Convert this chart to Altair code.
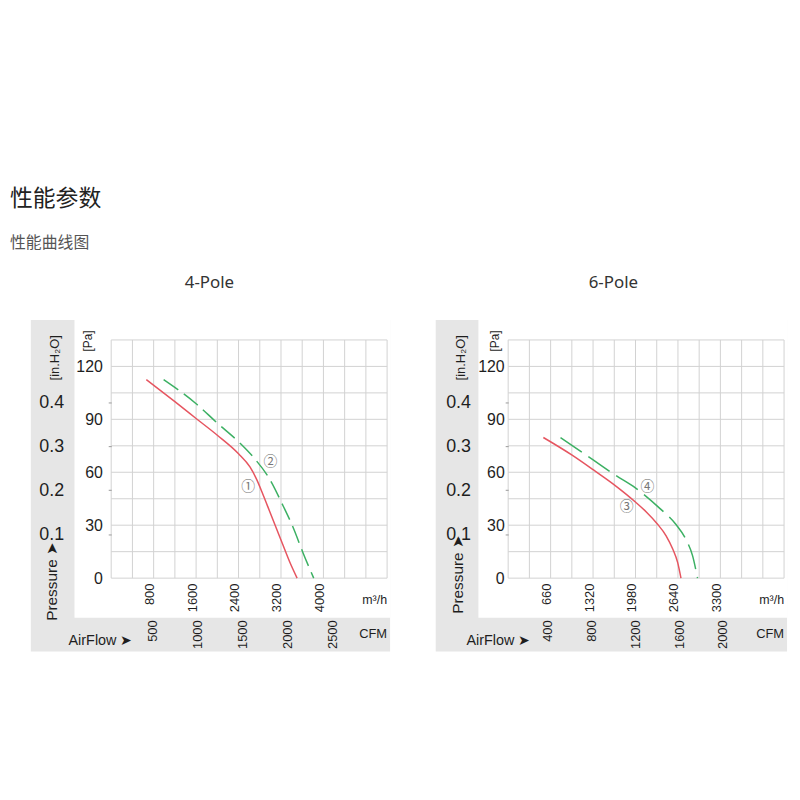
import altair as alt
import pandas as pd

# ---------------- data ----------------
PA_MAX = 135
PA_PER_INH2O = 249.0
M3H_PER_CFM = 1.7

# 4-Pole panel
p4_flow_max = 5200
p4_grid_flow = [0, 400, 800, 1200, 1600, 2000, 2400, 2800, 3200, 3600, 4000, 4400, 4800, 5200]
p4_flow_ticks = [800, 1600, 2400, 3200, 4000]
p4_cfm_ticks = [500, 1000, 1500, 2000, 2500]
p4_c1_flow = [662, 1200, 1600, 2000, 2400, 2615, 2741, 2866, 2991, 3116, 3241, 3367, 3504]
p4_c1_pa = [112.5, 100.0, 90.5, 81.0, 70.5, 63.0, 56.0, 47.0, 37.5, 28.0, 18.5, 9.0, 0.0]
p4_c2_flow = [988, 1595, 1995, 2428, 2678, 2991, 3241, 3429, 3620, 3817]
p4_c2_pa = [112.5, 99.0, 88.0, 76.5, 68.6, 55.9, 40.9, 28.7, 14.0, 0.0]
p4_tags = ["①", "②"]
p4_tag_flow = [2584, 3003]
p4_tag_pa = [51.7, 65.8]

# 6-Pole panel
p6_flow_max = 4290
p6_grid_flow = [0, 330, 660, 990, 1320, 1650, 1980, 2310, 2640, 2970, 3300, 3630, 3960, 4290]
p6_flow_ticks = [660, 1320, 1980, 2640, 3300]
p6_cfm_ticks = [400, 800, 1200, 1600, 2000]
p6_c3_flow = [547, 994, 1327, 1660, 1983, 2148, 2313, 2456, 2559, 2636, 2687]
p6_c3_pa = [79.7, 69.7, 61.3, 52.6, 43.0, 37.5, 31.0, 24.0, 16.5, 8.8, 0.0]
p6_c4_flow = [814, 1327, 1660, 1983, 2353, 2610, 2765, 2868, 2944]
p6_c4_pa = [79.7, 66.9, 58.5, 51.0, 39.7, 30.4, 21.9, 12.6, 0.0]
p6_tags = ["③", "④"]
p6_tag_flow = [1841, 2165]
p6_tag_pa = [40.3, 51.9]

pa_grid = [0, 15, 30, 45, 60, 75, 90, 105, 120, 135]
pa_ticks = [0, 30, 60, 90, 120]
inh2o_ticks = [0.1, 0.2, 0.3, 0.4]

# ---------------- styling ----------------
W, H = 278, 240
NARROW = "Liberation Sans Narrow, Arial Narrow, Liberation Sans, Arial"
CJK = "Noto Sans CJK SC"
INK = "#1e1e1e"
RED = "#e65560"
GREEN = "#3cb063"
GRID = "#d2d2d2"
GRAY = "#e6e6e6"

one = pd.DataFrame({"k": [0]})


def txt(s, x, y, size, angle=0, align="center", baseline="middle",
        font=NARROW, color=INK, weight="normal"):
    return alt.Chart(one).mark_text(
        text=s, fontSize=size, angle=angle, align=align, baseline=baseline,
        font=font, color=color, fontWeight=weight
    ).encode(x=alt.value(x), y=alt.value(y))


def box(x1, x2, y1, y2, color):
    return alt.Chart(one).mark_rect(color=color).encode(
        x=alt.value(x1), x2=alt.value(x2), y=alt.value(y1), y2=alt.value(y2))


def panel(flow_max, grid_flow, flow_ticks, cfm_ticks, curves, tags, g, title, extra=None):
    xs = alt.Scale(domain=[0, flow_max], nice=False, zero=False)
    ys = alt.Scale(domain=[0, PA_MAX], nice=False)
    x_axis = alt.Axis(values=flow_ticks, labelAngle=270, ticks=False, domain=False,
                      grid=False, labelPadding=5, labelFontSize=13, labelFont=NARROW,
                      labelColor=INK, title=None, labelOffset=-4, zindex=1, format="d")
    y_axis = alt.Axis(values=pa_ticks, ticks=False, domain=False, grid=False,
                      labelPadding=g["pa_pad"], labelFontSize=16, labelFont=NARROW,
                      labelColor=INK, title=None, zindex=1, format="d")

    layers = [
        box(g["gl"], g["gr"], -20, 314, GRAY),
        box(g["wl"], g["gr"], -20, 280, "white"),
        alt.Chart(pd.DataFrame({"f": grid_flow})).mark_rule(color=GRID, strokeWidth=1).encode(
            x=alt.X("f:Q", scale=xs, axis=x_axis), y=alt.value(0), y2=alt.value(H)),
        alt.Chart(pd.DataFrame({"p": pa_grid})).mark_rule(color=GRID, strokeWidth=1).encode(
            y=alt.Y("p:Q", scale=ys, axis=y_axis), x=alt.value(0), x2=alt.value(W)),
    ]
    for (fl, pa, color, dash) in curves:
        df = pd.DataFrame({"f": fl, "p": pa})
        mk = dict(color=color, strokeWidth=1.5, interpolate="monotone")
        if dash:
            mk["strokeDash"] = dash
        layers.append(alt.Chart(df).mark_line(**mk).encode(
            x=alt.X("f:Q", scale=xs, axis=x_axis), y=alt.Y("p:Q", scale=ys, axis=y_axis)))
    tdf = pd.DataFrame({"t": tags[0], "f": tags[1], "p": tags[2]})
    layers.append(alt.Chart(tdf).mark_text(font=CJK, fontSize=14, color="#777777").encode(
        x=alt.X("f:Q", scale=xs, axis=x_axis), y=alt.Y("p:Q", scale=ys, axis=y_axis), text="t:N"))

    layers += [
        txt("[Pa]", g["pa_x"], 1, 12, angle=270),
        txt("[in.H₂O]", g["in_x"], 18, 13, angle=270),
        txt("Pressure ➤", g["pr_x"], g["pr_y"], 15.5, angle=270, align="left"),
        txt("AirFlow ➤", g["af_x"], 303, 14.5, align="left"),
        txt("m³/h", W, 262, 12.5, align="right"),
        txt("CFM", W, 296, 13, align="right"),
        txt(title, g["t_x"], -57, 17, font="Noto Sans", color="#333333"),
    ]
    if extra:
        layers += extra
    inner = alt.layer(*layers)

    cfm_axis = alt.Axis(values=cfm_ticks, orient="bottom", offset=36, labelAngle=270,
                        ticks=False, domain=False, grid=False, labelPadding=6,
                        labelFontSize=13, labelFont=NARROW, labelColor=INK, title=None,
                        labelOffset=-4, zindex=1, format="d")
    cfm = alt.Chart(pd.DataFrame({"c": cfm_ticks})).mark_point(opacity=0).encode(
        x=alt.X("c:Q", scale=alt.Scale(domain=[0, flow_max / M3H_PER_CFM], nice=False, zero=False),
                axis=cfm_axis),
        y=alt.value(0))
    inh_axis = alt.Axis(values=inh2o_ticks, orient="left", offset=0, ticks=True, tickSize=3,
                        tickColor="#999999", domain=False, grid=False,
                        labelPadding=g["in_pad"], labelFontSize=18, labelFont=NARROW,
                        labelColor=INK, title=None, format=".1f", zindex=1)
    inh = alt.Chart(pd.DataFrame({"h": inh2o_ticks})).mark_point(opacity=0).encode(
        y=alt.Y("h:Q", scale=alt.Scale(domain=[0, PA_MAX / PA_PER_INH2O], nice=False),
                axis=inh_axis),
        x=alt.value(0))
    return alt.layer(inner, cfm, inh).resolve_scale(x="independent", y="independent").properties(
        width=W, height=H)


g4 = dict(gl=-81, gr=281, wl=-37, pa_pad=9, in_pad=45, pa_x=-23, in_x=-57,
          pr_x=-60, pr_y=283, af_x=-43, t_x=99)
g6 = dict(gl=-73, gr=281, wl=-30, pa_pad=4, in_pad=35, pa_x=-13, in_x=-47,
          pr_x=-51, pr_y=276, af_x=-42, t_x=106)

headings = [
    txt("性能参数", -102, -142, 23, align="left", font=CJK, color="#222222"),
    txt("性能曲线图", -102, -98, 16, align="left", font=CJK, color="#555555"),
]

left = panel(p4_flow_max, p4_grid_flow, p4_flow_ticks, p4_cfm_ticks,
             [(p4_c1_flow, p4_c1_pa, RED, None), (p4_c2_flow, p4_c2_pa, GREEN, [18, 7])],
             (p4_tags, p4_tag_flow, p4_tag_pa), g4, "4-Pole", extra=headings)
right = panel(p6_flow_max, p6_grid_flow, p6_flow_ticks, p6_cfm_ticks,
              [(p6_c3_flow, p6_c3_pa, RED, None), (p6_c4_flow, p6_c4_pa, GREEN, [26, 8])],
              (p6_tags, p6_tag_flow, p6_tag_pa), g6, "6-Pole")

chart = alt.hconcat(left, right, spacing=122, bounds="flush").properties(
    padding={"left": 2, "top": 179, "right": 5, "bottom": 5},
    background="white",
).configure_view(stroke=None)

chart.save("out.html", embed_options={"renderer": "svg", "actions": False})
